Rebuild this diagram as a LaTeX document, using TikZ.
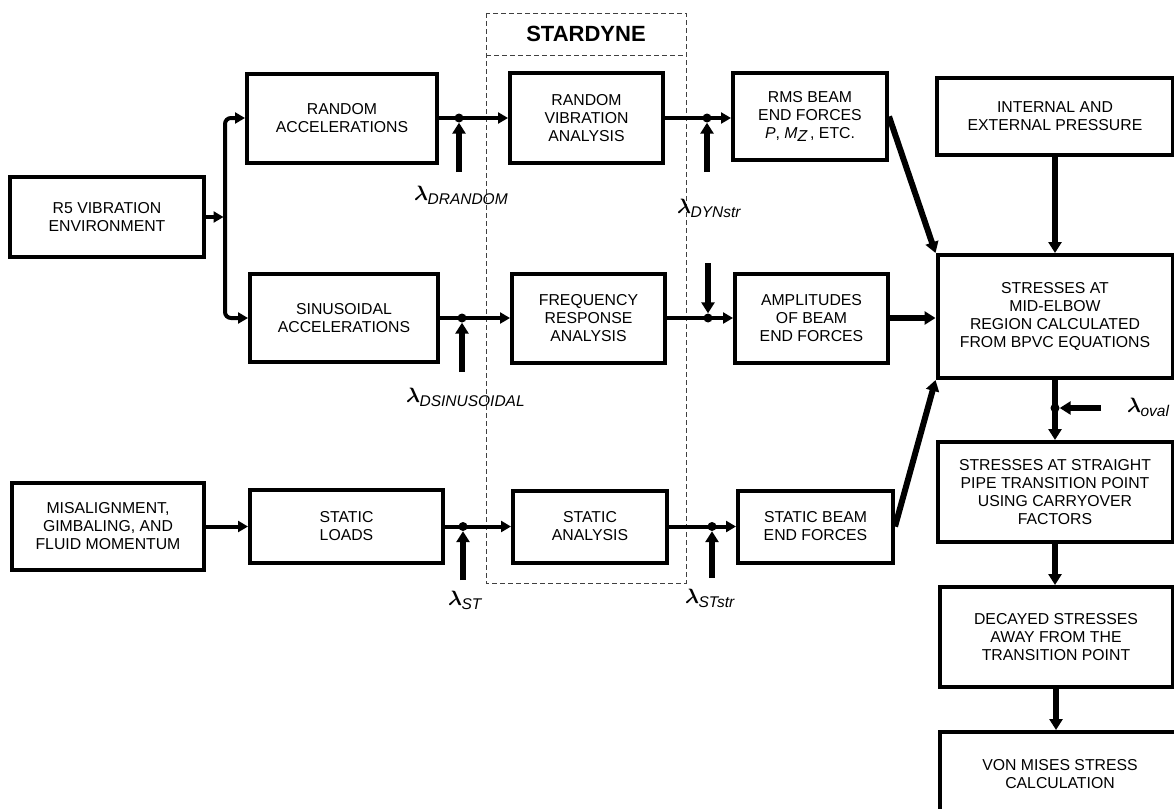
\documentclass[tikz,border=0pt]{standalone}
\usepackage{fontspec}
\setmainfont{Liberation Sans}
\usetikzlibrary{arrows.meta}
% lambda with a lowered italic subscript word
\newcommand{\lamsub}[1]{{\fontsize{20}{20}\selectfont\boldmath$\lambda$}\kern-0.5pt\raisebox{-4pt}{\fontsize{15.5}{15.5}\selectfont\itshape #1}}
\begin{document}
\begin{tikzpicture}[x=1pt,y=-1pt,
  blk/.style={draw, line width=4pt, align=center, inner sep=0pt,
              font=\fontsize{15.8}{18}\selectfont},
  conn/.style={line width=4pt, -{Triangle[length=10pt,width=11pt]}},
  heavy/.style={line width=5.5pt, -{Triangle[length=11pt,width=13pt]}},
  dot/.style={circle, fill, inner sep=0pt, minimum size=9pt},
  lab/.style={anchor=base west, inner sep=0pt},
  frame/.style={dash pattern=on 5pt off 3pt, line width=0.9pt, black!75}]
\useasboundingbox (0,0) rectangle (1174,808);

% STARDYNE frame
\draw[frame] (486,13) rectangle (686,583);
\draw[frame] (486,55) -- (686,55);
\node[font=\fontsize{22}{22}\selectfont\bfseries] (stardyne) at (586,34) {STARDYNE};

% left column
\node[blk, minimum width=194pt, minimum height=80pt] (r5) at (107,217) {R5 VIBRATION\\ENVIRONMENT};
\node[blk, minimum width=192pt, minimum height=87pt] (mis) at (108,526.5) {MISALIGNMENT,\\GIMBALING, AND\\FLUID MOMENTUM};

% input loads
\node[blk, minimum width=190pt, minimum height=89pt] (racc) at (342,118) {RANDOM\\ACCELERATIONS};
\node[blk, minimum width=188pt, minimum height=88pt] (sacc) at (344,318) {SINUSOIDAL\\ACCELERATIONS};
\node[blk, minimum width=193pt, minimum height=73pt] (sload) at (346.5,526.5) {STATIC\\LOADS};

% analyses
\node[blk, minimum width=153pt, minimum height=90pt] (rva) at (586.5,118) {RANDOM\\VIBRATION\\ANALYSIS};
\node[blk, minimum width=153pt, minimum height=89pt] (fra) at (588.5,318) {FREQUENCY\\RESPONSE\\ANALYSIS};
\node[blk, minimum width=154pt, minimum height=72pt] (sa) at (590,526.5) {STATIC\\ANALYSIS};

% beam end forces
\node[blk, minimum width=154pt, minimum height=87pt] (rms) at (810,116.5) {RMS BEAM\\END FORCES\\\textit{P}, \textit{M}\raisebox{-3pt}{\textit{Z}}\,,\ ETC.};
\node[blk, minimum width=153pt, minimum height=89pt] (amp) at (811.5,318) {AMPLITUDES\\OF BEAM\\END FORCES};
\node[blk, minimum width=155pt, minimum height=72pt] (sbef) at (815.5,526.5) {STATIC BEAM\\END FORCES};

% right column
\node[blk, minimum width=236pt, minimum height=77pt] (pres) at (1055,116.5) {INTERNAL AND\\EXTERNAL PRESSURE};
\node[blk, minimum width=235pt, minimum height=123pt] (mid) at (1055,316.5) {STRESSES AT\\MID-ELBOW\\REGION CALCULATED\\FROM BPVC EQUATIONS};
\node[blk, minimum width=235pt, minimum height=100pt] (str) at (1055,492) {STRESSES AT STRAIGHT\\PIPE TRANSITION POINT\\USING CARRYOVER\\FACTORS};
\node[blk, minimum width=233pt, minimum height=100pt] (dec) at (1056,637) {DECAYED STRESSES\\AWAY FROM THE\\TRANSITION POINT};
\node[blk, minimum width=240pt, minimum height=84pt] (von) at (1060,774) {VON MISES STRESS\\CALCULATION};

% split of the vibration environment
\coordinate (split) at (225,217);
\draw[conn, shorten >=1.5pt] (r5.east) -- (split);
\draw[conn, rounded corners=6pt] (split) |- (racc.west);
\draw[conn, rounded corners=6pt] (split) |- (sacc.west);
\draw[conn] (mis.east) -- (sload.west);

% random branch
\node[dot] (j1) at (459,118) {};
\draw[conn] (racc.east) -- (racc.east -| rva.west);
\coordinate (l1) at (459,172);
\draw[heavy] (l1) -- (j1.south);
\node[dot] (j2) at (707,118) {};
\draw[conn] (rva.east) -- (rva.east -| rms.west);
\coordinate (l2) at (707,172);
\draw[heavy] (l2) -- (j2.south);

% sinusoidal branch
\node[dot] (j3) at (462,318) {};
\draw[conn] (sacc.east) -- (sacc.east -| fra.west);
\coordinate (l3) at (462,372);
\draw[heavy] (l3) -- (j3.south);
\node[dot] (j4) at (708,318) {};
\draw[conn] (fra.east) -- (fra.east -| amp.west);
\coordinate (l4) at (708,263);
\draw[heavy] (l4) -- (j4.north);

% static branch
\node[dot] (j5) at (463,526.5) {};
\draw[conn] (sload.east) -- (sload.east -| sa.west);
\coordinate (l5) at (463,580);
\draw[heavy] (l5) -- (j5.south);
\node[dot] (j6) at (712,526.5) {};
\draw[conn] (sa.east) -- (sa.east -| sbef.west);
\coordinate (l6) at (712,578);
\draw[heavy] (l6) -- (j6.south);

% into the mid-elbow stresses
\draw[heavy, line width=6pt] (rms.east) -- (mid.north west);
\draw[heavy] (amp.east) -- (amp.east -| mid.west);
\draw[heavy, line width=6pt] (sbef.east) -- (mid.south west);
\draw[heavy] (pres.south) -- (mid.north);

% down the right column
\node[dot] (jo) at (1055,408) {};
\coordinate (lo) at (1101,408);
\draw[heavy] (mid.south) -- (str.north);
\draw[heavy] (lo) -- (jo.east);
\draw[heavy] (str.south) -- (str.south |- dec.north);
\draw[heavy] (dec.south) -- (dec.south |- von.north);

% factor labels
\node[lab] (tdr) at (414,200) {\lamsub{DRANDOM}};
\node[lab] (tdyn) at (677,213) {\lamsub{DYNstr}};
\node[lab] (tds) at (406,402) {\lamsub{DSINUSOIDAL}};
\node[lab] (tst) at (448,605) {\lamsub{ST}};
\node[lab] (tststr) at (685,603) {\lamsub{STstr}};
\node[lab] (toval) at (1127,412) {\lamsub{oval}};
\end{tikzpicture}
\end{document}
